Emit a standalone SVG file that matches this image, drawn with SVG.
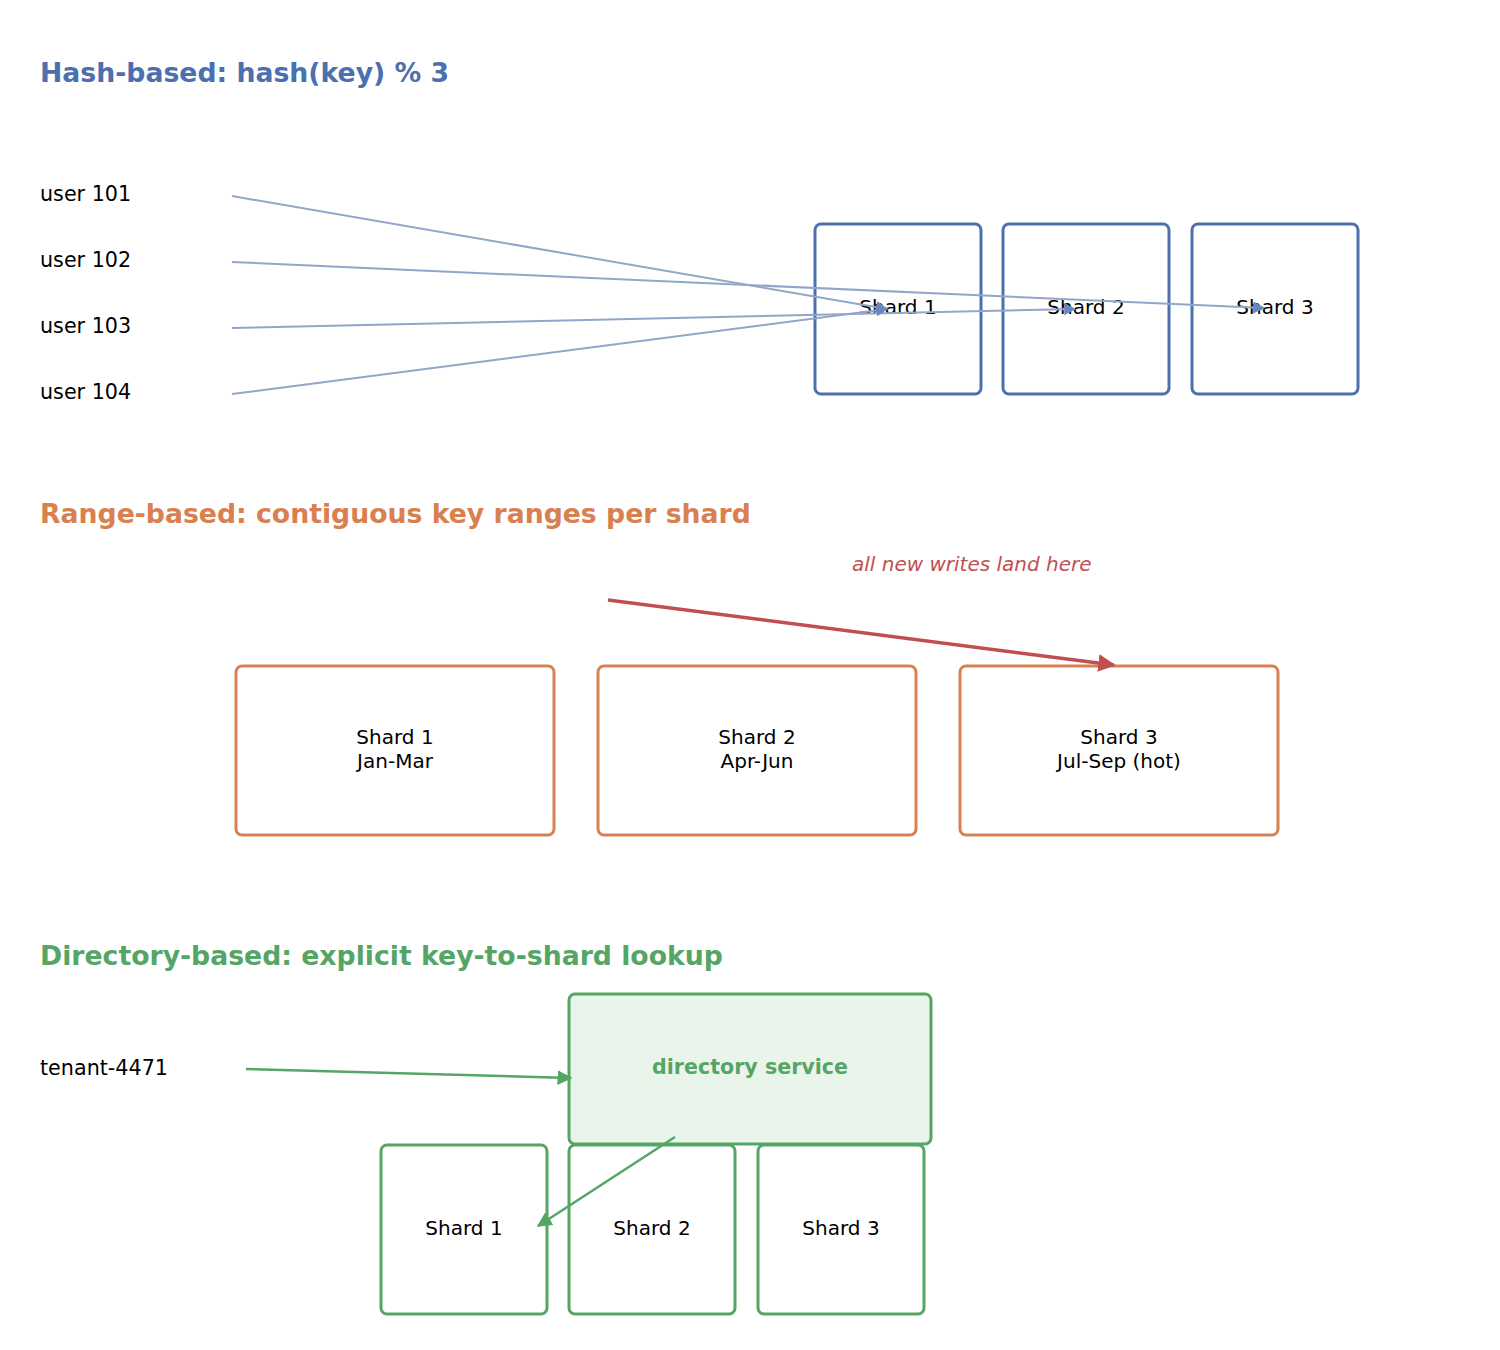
<svg xmlns="http://www.w3.org/2000/svg" width="1500" height="1350" viewBox="0 0 1500 1350">
<style>
text{font-family:"DejaVu Sans",sans-serif;font-size:20px;fill:#000}
.h{font-size:26.7px;font-weight:bold}
.l{font-size:20.7px}
.c{text-anchor:middle}
.bb{fill:#fff;stroke:#4c6fae;stroke-width:3}
.ob{fill:#fff;stroke:#d98050;stroke-width:3}
.gb{fill:#fff;stroke:#55a565;stroke-width:3}
</style>
<defs>
<marker id="ab" viewBox="0 0 10 10" refX="9" refY="5" markerWidth="6" markerHeight="6" orient="auto"><path d="M0,0L10,5L0,10z" fill="#6a87bd"/></marker>
<marker id="ar" viewBox="0 0 10 10" refX="9" refY="5" markerWidth="5" markerHeight="5" orient="auto"><path d="M0,0L10,5L0,10z" fill="#c05050"/></marker>
<marker id="ag" viewBox="0 0 10 10" refX="9" refY="5" markerWidth="6" markerHeight="6" orient="auto"><path d="M0,0L10,5L0,10z" fill="#55a565"/></marker>
</defs>
<rect width="1500" height="1350" fill="#fff"/>
<text class="h" x="40" y="82" style="fill:#4c6fae">Hash-based: hash(key) % 3</text>
<text class="h" x="40" y="523" style="fill:#d98050">Range-based: contiguous key ranges per shard</text>
<text class="h" x="40" y="965" style="fill:#55a565">Directory-based: explicit key-to-shard lookup</text>

<g id="u101"><text class="l" x="40" y="201">user 101</text></g>
<g id="u102"><text class="l" x="40" y="267">user 102</text></g>
<g id="u103"><text class="l" x="40" y="333">user 103</text></g>
<g id="u104"><text class="l" x="40" y="399">user 104</text></g>
<g id="hs1"><rect class="bb" x="815" y="224" width="166" height="170" rx="6"/><text class="c" x="898" y="314">Shard 1</text></g>
<g id="hs2"><rect class="bb" x="1003" y="224" width="166" height="170" rx="6"/><text class="c" x="1086" y="314">Shard 2</text></g>
<g id="hs3"><rect class="bb" x="1192" y="224" width="166" height="170" rx="6"/><text class="c" x="1275" y="314">Shard 3</text></g>

<g id="rs1"><rect class="ob" x="236" y="666" width="318" height="169" rx="6"/><text class="c" x="395" y="744">Shard 1</text><text class="c" x="395" y="768">Jan-Mar</text></g>
<g id="rs2"><rect class="ob" x="598" y="666" width="318" height="169" rx="6"/><text class="c" x="757" y="744">Shard 2</text><text class="c" x="757" y="768">Apr-Jun</text></g>
<g id="rs3"><rect class="ob" x="960" y="666" width="318" height="169" rx="6"/><text class="c" x="1119" y="744">Shard 3</text><text class="c" x="1119" y="768">Jul-Sep (hot)</text></g>
<g id="note"><text x="852" y="571" style="fill:#c05050;font-style:italic">all new writes land here</text></g>

<g id="tenant"><text class="l" x="40" y="1075">tenant-4471</text></g>
<g id="ds1"><rect class="gb" x="381" y="1145" width="166" height="169" rx="6"/><text class="c" x="464" y="1235">Shard 1</text></g>
<g id="ds2"><rect class="gb" x="569" y="1145" width="166" height="169" rx="6"/><text class="c" x="652" y="1235">Shard 2</text></g>
<g id="ds3"><rect class="gb" x="758" y="1145" width="166" height="169" rx="6"/><text class="c" x="841" y="1235">Shard 3</text></g>
<g id="dir"><rect x="569" y="994" width="362" height="150" rx="6" fill="#e9f5eb" stroke="#55a565" stroke-width="3"/><text class="c" x="750" y="1074" style="fill:#55a565;font-weight:bold;font-size:20.6px">directory service</text></g>

<g id="connectors" fill="none">
<g stroke="#91a6c9" stroke-width="2" marker-end="url(#ab)">
<line x1="232" y1="196" x2="887" y2="309"/>
<line x1="232" y1="262" x2="1264" y2="308"/>
<line x1="232" y1="328" x2="1075" y2="309"/>
<line x1="232" y1="394" x2="887" y2="309"/>
</g>
<line x1="608" y1="600" x2="1114" y2="665" stroke="#c05050" stroke-width="3.5" marker-end="url(#ar)"/>
<line x1="246" y1="1069" x2="571" y2="1078" stroke="#55a565" stroke-width="2.5" marker-end="url(#ag)"/>
<line x1="675" y1="1137" x2="538" y2="1226" stroke="#55a565" stroke-width="2.5" marker-end="url(#ag)"/>
</g>
</svg>
